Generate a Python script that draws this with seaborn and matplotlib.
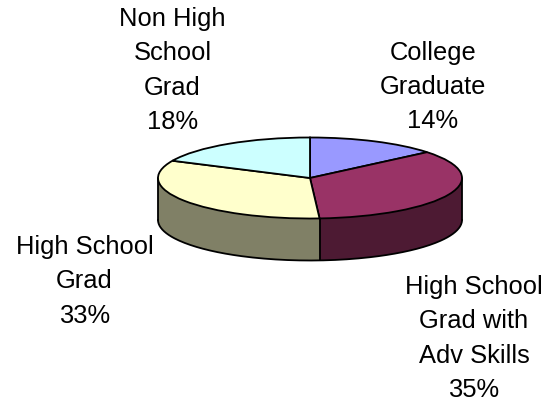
import numpy as np
import matplotlib
matplotlib.use("Agg")
import matplotlib.pyplot as plt
from matplotlib.transforms import Affine2D
import seaborn as sns

sns.set_theme(style="white")
plt.rcParams['font.family'] = ['Liberation Sans', 'DejaVu Sans']

labels = ["College\nGraduate\n14%", "High School\nGrad with\nAdv Skills\n35%",
          "High School\nGrad\n33%", "Non High\nSchool\nGrad\n18%"]
shares = [14, 35, 33, 18]
top_colors = ["#9999FF", "#993366", "#FFFFCC", "#CCFFFF"]
side_colors = ["#4D4D80", "#4D1A33", "#808066", "#668080"]

W, H = 560, 402
fig = plt.figure(figsize=(W / 100, H / 100), dpi=100)
ax = fig.add_axes([0, 0, 1, 1])
ax.set_xlim(0, W)
ax.set_ylim(H, 0)
ax.axis("off")

cx, cy, rx, ry, depth = 310, 179, 152, 40.5, 42
lw = 1.3
tr = Affine2D().scale(rx, -ry).translate(cx, cy)

# side wall: stacked copies of the pie, bottom to top
for d in np.arange(depth, 0, -1):
    wedges, _ = ax.pie(shares, colors=side_colors, startangle=90, counterclock=False,
                       frame=False, wedgeprops=dict(linewidth=0))
    for w in wedges:
        w.set_transform(Affine2D().scale(rx, -ry).translate(cx, cy + d) + ax.transData)

# black outline of the bottom rim and vertical edges
t = np.linspace(0, np.pi, 200)
ax.plot(cx + rx * np.cos(t), cy + depth + ry * np.sin(t), color="black", lw=lw)
ax.plot([cx - rx, cx - rx], [cy, cy + depth], color="black", lw=lw)
ax.plot([cx + rx, cx + rx], [cy, cy + depth], color="black", lw=lw)
end_angle = 2 * np.pi * (shares[0] + shares[1]) / sum(shares)
bx, by = cx + rx * np.sin(end_angle), cy - ry * np.cos(end_angle)
ax.plot([bx, bx], [by, by + depth], color="black", lw=lw)

# top surface
wedges, _ = ax.pie(shares, colors=top_colors, startangle=90, counterclock=False,
                   frame=False, wedgeprops=dict(edgecolor="black", linewidth=lw))
for w in wedges:
    w.set_transform(tr + ax.transData)
    w.set_zorder(5)

ax.set_xlim(0, W)
ax.set_ylim(H, 0)
ax.set_aspect("auto")

positions = [(433, 87), (474, 338.5), (84.5, 281.5), (172.5, 70.5)]
for lab, (x, y) in zip(labels, positions):
    ax.text(x, y, lab, ha="center", va="center", fontsize=18.4, color="black",
            linespacing=1.547, zorder=10)

fig.savefig("out.png", dpi=100, facecolor="white")
